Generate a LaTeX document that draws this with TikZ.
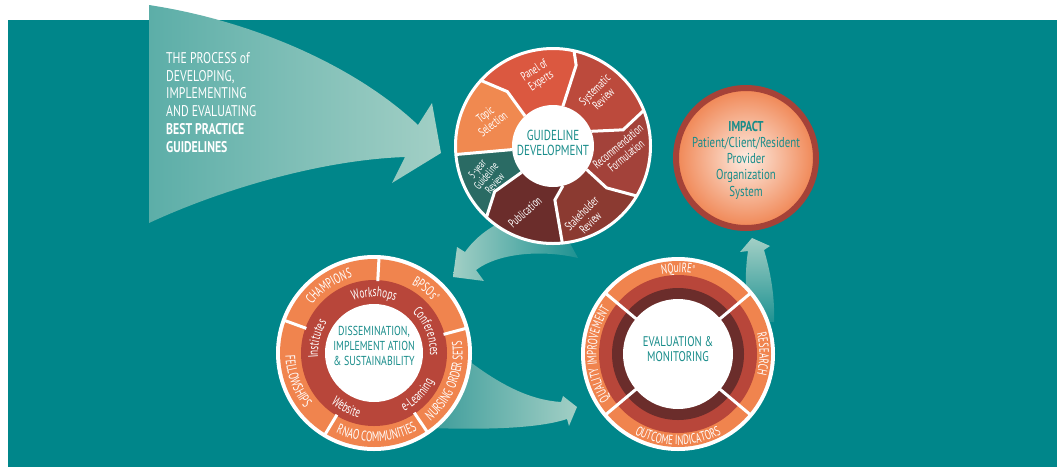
\documentclass[tikz,border=0pt]{standalone}
\usepackage{fontspec}
\setmainfont{PT Sans}[FakeStretch=0.76]
\newfontfamily\narrowfont{PT Sans}[FakeStretch=0.66]
\usetikzlibrary{decorations.text}
\definecolor{bg}{RGB}{0,134,138}
\definecolor{ttxt}{RGB}{24,140,138}
\definecolor{alight}{RGB}{162,207,197}
\definecolor{aleft}{RGB}{92,174,168}
\definecolor{afade}{RGB}{30,146,146}
\definecolor{amid}{RGB}{60,156,154}
\definecolor{cTopic}{RGB}{240,137,80}
\definecolor{cPanel}{RGB}{219,88,64}
\definecolor{cSys}{RGB}{188,74,60}
\definecolor{cRec}{RGB}{163,66,58}
\definecolor{cStake}{RGB}{139,58,49}
\definecolor{cPub}{RGB}{107,45,43}
\definecolor{cFive}{RGB}{42,107,100}
\definecolor{orng}{RGB}{240,132,78}
\definecolor{rred}{RGB}{184,70,58}
\definecolor{dbrn}{RGB}{107,45,43}
\definecolor{ringc}{RGB}{165,66,56}
\definecolor{impin}{RGB}{253,236,226}
\definecolor{impout}{RGB}{240,134,84}
\newcommand\rtA{\color{white}\narrowfont\fontsize{14}{15}\selectfont}
\newcommand\rtB{\color{white}\narrowfont\fontsize{14}{15}\selectfont}
\newcommand\rtC{\color{white}\narrowfont\fontsize{13.5}{14}\selectfont}
\newcommand\cwtext[4]{\path[decorate,decoration={text along path,text align=center,text={#4}}]
  (#2+#3:#1) arc[start angle=#2+#3,end angle=#2-#3,radius=#1];}
\newcommand\ccwtext[4]{\path[decorate,decoration={text along path,text align=center,text={#4}}]
  (#2-#3:#1) arc[start angle=#2-#3,end angle=#2+#3,radius=#1];}
\begin{document}
\begin{tikzpicture}[x=1pt,y=1pt,
  seglabel/.style={text=white,font=\narrowfont\fontsize{12.5}{12.5}\selectfont,align=center,inner sep=0pt},
  centertext/.style={text=ttxt,align=center,inner sep=0pt},
  sep/.style={white,line width=3pt}]
\useasboundingbox (0,0) rectangle (1057,-467);
\fill[white] (0,0) rectangle (1057,-467);
\fill[bg] (8,-20) rectangle (1057,-467);

% big arrow
\shade[left color=aleft,right color=alight] (149,-5) .. controls (260,-22) and (360,-70) .. (418,-125)
  -- (432,-103) -- (441,-153) -- (392,-183) -- (405,-157)
  .. controls (320,-160) and (220,-190) .. (149,-223) -- cycle;
\node[anchor=north west,text=white,align=left,inner sep=0pt,font=\fontsize{15.5}{17.8}\selectfont] (title) at (166,-52)
  {THE PROCESS of\\DEVELOPING,\\IMPLEMENTING\\AND EVALUATING\\\textbf{BEST PRACTICE}\\\textbf{GUIDELINES}};

% arrow top -> left
\shade[left color=alight,right color=afade] (453,-277) -- (457,-247) -- (465,-252)
  .. controls (475,-238) and (488,-228) .. (505,-220) -- (560,-225) -- (578,-258)
  .. controls (545,-250) and (500,-252) .. (476,-270) -- (484,-281) -- cycle;
% arrow left -> right
\shade[left color=amid,right color=alight] (465,-358) .. controls (500,-385) and (530,-400) .. (561,-402)
  -- (563,-396) -- (577,-407) -- (569,-426) -- (567,-419)
  .. controls (540,-428) and (490,-430) .. (430,-428) -- cycle;
% arrow right -> impact
\shade[top color=alight,bottom color=afade] (752,-238) -- (770,-246) -- (764,-250)
  .. controls (770,-270) and (775,-295) .. (774,-322) -- (748,-322)
  .. controls (745,-295) and (745,-270) .. (748,-251) -- (740,-252) -- cycle;

% top wheel
\begin{scope}[shift={(553,-146)}]
 \coordinate (GD) at (0,0);
 \begin{scope}
  \clip (0,0) circle (98);
  \fill[cSys] (0,0) -- (21:41) -- (13:72) -- (24:110) arc[start angle=24,end angle=80,radius=110] -- (74:84) -- (76:41) -- cycle;
  \fill[cPanel] (0,0) -- (76:41) -- (74:84) -- (80:110) arc[start angle=80,end angle=140,radius=110] -- (130:71) -- (133:41) -- cycle;
  \fill[cTopic] (0,0) -- (133:41) -- (130:71) -- (140:110) arc[start angle=140,end angle=185,radius=110] -- (185:41) -- cycle;
  \fill[cFive] (0,0) -- (185:41) -- (185:110) arc[start angle=185,end angle=230,radius=110] -- (218:74) -- (220:41) -- cycle;
  \fill[cPub] (0,0) -- (220:41) -- (218:74) -- (230:110) arc[start angle=230,end angle=276,radius=110] -- (272:54) -- (284:41) -- cycle;
  \fill[cStake] (0,0) -- (284:41) -- (272:54) -- (276:110) arc[start angle=276,end angle=331,radius=110] -- (322:68) -- (325:41) -- cycle;
  \fill[cRec] (0,0) -- (325:41) -- (322:68) -- (331:110) arc[start angle=331,end angle=384,radius=110] -- (373:72) -- (381:41) -- cycle;
  \draw[sep] (21:41) -- (13:72) -- (24:110);
  \draw[sep] (76:41) -- (74:84) -- (80:110);
  \draw[sep] (133:41) -- (130:71) -- (140:110);
  \draw[sep] (185:41) -- (185:110);
  \draw[sep] (220:41) -- (218:74) -- (230:110);
  \draw[sep] (284:41) -- (272:54) -- (276:110);
  \draw[sep] (325:41) -- (322:68) -- (331:110);
 \end{scope}
 \fill[white] (0,0) circle (41);
 \draw[white,line width=3pt] (0,0) circle (97.5);
\end{scope}
\node[seglabel,rotate=38] (s1) at (489,-119) {Topic\\Selection};
\node[seglabel,rotate=33] (s2) at (538,-76) {Panel of\\Experts};
\node[seglabel,rotate=45] (s3) at (599,-94) {Systematic\\Review};
\node[seglabel,rotate=40] (s4) at (622,-151) {Recommendation\\Formulation};
\node[seglabel,rotate=45] (s5) at (586,-218) {Stakeholder\\Review};
\node[seglabel,rotate=42] (s6) at (525,-212) {Publication};
\node[seglabel,rotate=50,font=\narrowfont\fontsize{11.5}{11.5}\selectfont] (s7) at (486,-176) {5-year\\Guideline\\Review};
\node[centertext,font=\fontsize{14.5}{15.5}\selectfont] (gd) at (553,-143) {GUIDELINE\\DEVELOPMENT};

% left wheel
\begin{scope}[shift={(374,-353)}]
 \coordinate (DIS) at (0,0);
 \fill[white] (0,0) circle (98);
 \fill[orng] (0,0) circle (94);
 \fill[rred] (0,0) circle (73);
 \fill[white] (0,0) circle (49);
 \foreach \a in {87,160,239,304,15} \draw[sep] (\a:72) -- (\a:96);
 \cwtext{78.5}{124}{70}{|\rtA|CHAMPIONS}
 \cwtext{78.5}{51}{60}{|\rtA|BPSOs{\raisebox{5pt}{\fontsize{6}{6}\selectfont ®}}}
 \ccwtext{88.5}{-21}{70}{|\rtA|NURSING ORDER SETS}
 \ccwtext{88.5}{-88}{70}{|\rtA|RNAO COMMUNITIES}
 \ccwtext{88.5}{200}{70}{|\rtA|FELLOWSHIPS}
 \cwtext{56}{90}{70}{|\rtB|Workshops}
 \cwtext{56}{22}{70}{|\rtB|Conferences}
 \ccwtext{66}{-44}{60}{|\rtB|e-Learning}
 \ccwtext{66}{-117}{60}{|\rtB|Website}
 \cwtext{56}{166}{70}{|\rtB|Institutes}
\end{scope}
\node[centertext,font=\fontsize{13}{15}\selectfont] (dis) at (374,-346) {DISSEMINATION,\\IMPLEMENT ATION\\\& SUSTAINABILITY};

% right wheel
\begin{scope}[shift={(678,-354)}]
 \coordinate (EVM) at (0,0);
 \fill[white] (0,0) circle (97);
 \fill[orng] (0,0) circle (93);
 \fill[rred] (0,0) circle (79);
 \fill[dbrn] (0,0) circle (66);
 \fill[white] (0,0) circle (55);
 \foreach \a in {40,140,220,320} \draw[sep] (\a:54) -- (\a:95);
 \cwtext{81.5}{90}{50}{|\rtC|NQuIRE{\raisebox{4pt}{\fontsize{6}{6}\selectfont ®}}}
 \cwtext{81.5}{0}{50}{|\rtC|RESEARCH}
 \ccwtext{91}{-90}{50}{|\rtC|OUTCOME INDICATORS}
 \cwtext{81.5}{180}{60}{|\rtC|QUALITY IMPROVEMENT}
\end{scope}
\node[centertext,font=\fontsize{14}{15}\selectfont] (evm) at (678,-349) {EVALUATION \&\\MONITORING};

% impact
\shade[inner color=impin,outer color=impout] (746,-158) circle (70);
\draw[ringc,line width=6pt] (746,-158) circle (70);
\node[centertext,font=\fontsize{14.3}{16.3}\selectfont] (impact) at (746,-160)
  {\textbf{IMPACT}\\Patient/Client/Resident\\Provider\\Organization\\System};
\end{tikzpicture}
\end{document}
